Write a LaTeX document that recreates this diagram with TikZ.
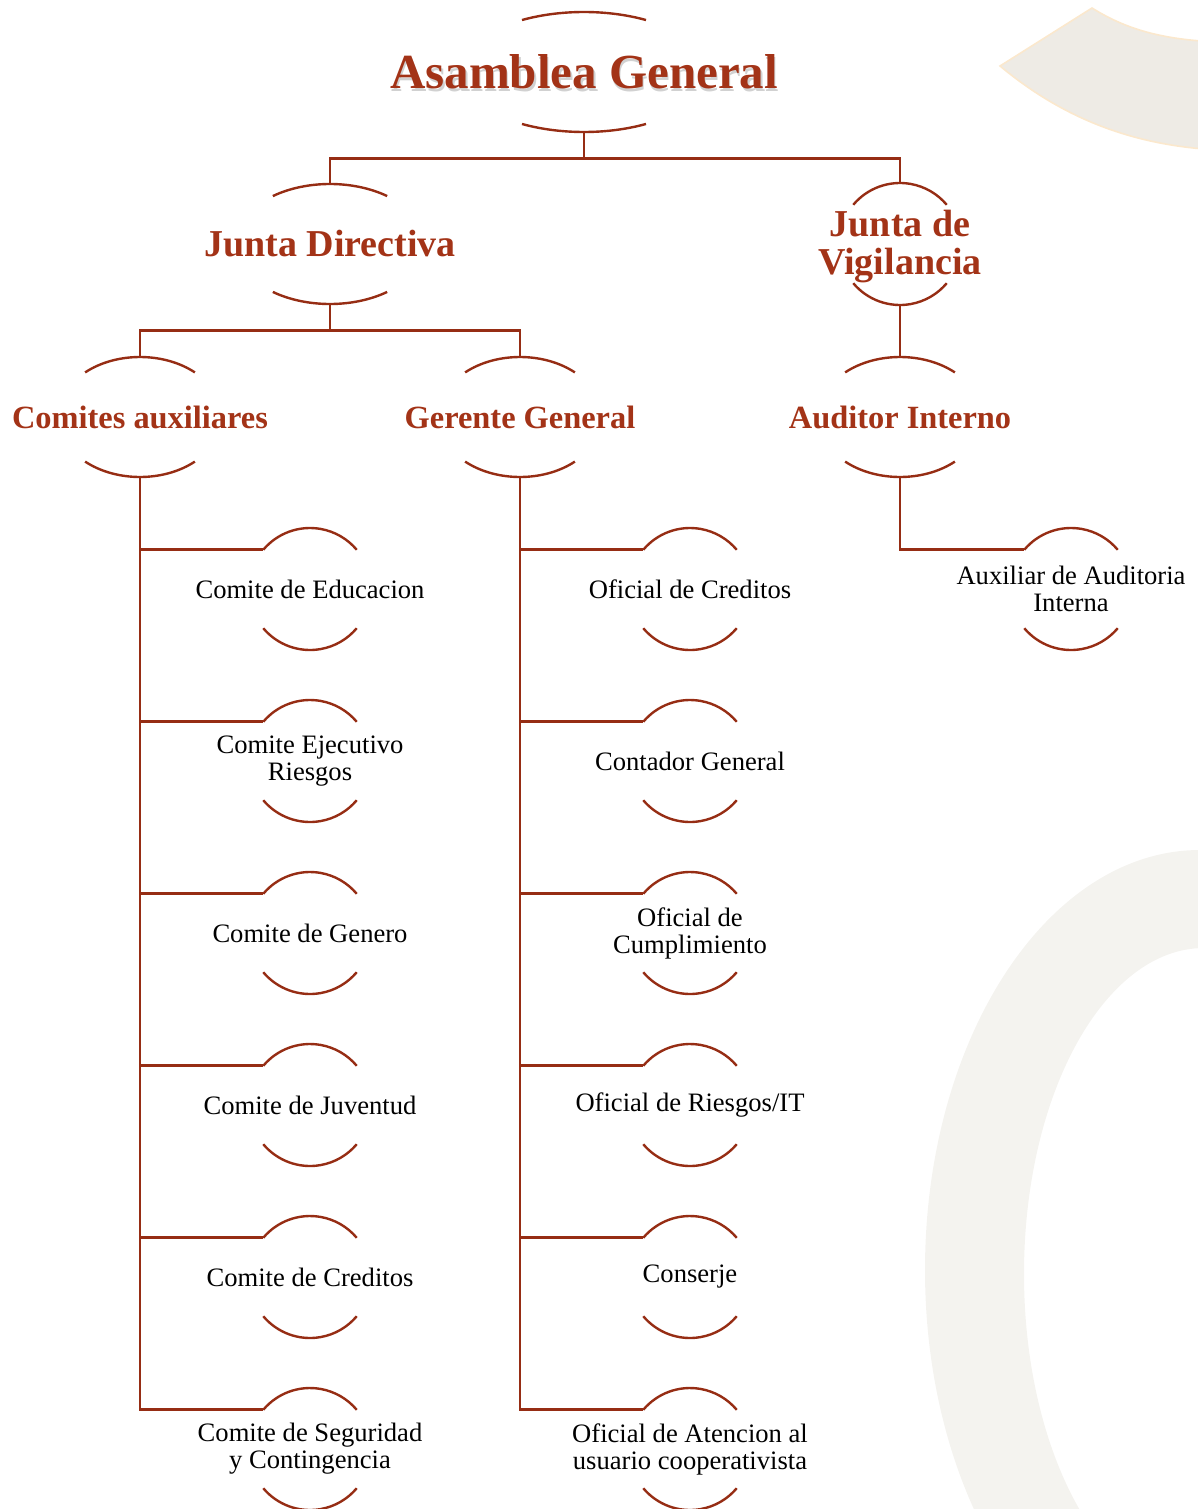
\documentclass[tikz,border=0pt]{standalone}
\usepackage{fontspec}
\setmainfont{Liberation Serif}
\usetikzlibrary{shapes.geometric}

\definecolor{linered}{RGB}{150,45,20}
\definecolor{headred}{RGB}{163,51,23}
\definecolor{ringgray}{RGB}{244,243,239}
\definecolor{bandgray}{RGB}{238,235,229}
\definecolor{bandedge}{RGB}{251,232,205}

\tikzset{
	orgline/.style={draw=linered, line width=1.2pt},
	topunit/.style={ellipse, inner sep=0pt, minimum width=124pt, minimum height=60pt},
	midunit/.style={ellipse, inner sep=0pt, minimum width=95pt, minimum height=60pt},
	lowunit/.style={ellipse, inner sep=0pt, minimum width=82pt, minimum height=60pt},
	subunit/.style={circle, inner sep=0pt, minimum size=61pt},
	titletext/.style={text=headred, font=\fontsize{24.5}{26}\selectfont\bfseries},
	titleshadow/.style={titletext, text=black!18, xshift=0.8pt, yshift=-1.3pt},
	headtext/.style={text=headred, align=center, font=\fontsize{19}{19}\selectfont\bfseries},
	depttext/.style={text=headred, font=\fontsize{16.2}{17}\selectfont\bfseries},
	subtext/.style={align=center, font=\fontsize{13.3}{13.5}\selectfont}
}

% two caps of an ellipse round a node: name, x radius, y radius, half opening
\newcommand{\caparcs}[4]{%
	\draw[orgline] ([shift={(180-#4:#2 and #3)}]#1.center) arc[start angle=180-#4, end angle=#4, x radius=#2, y radius=#3];
	\draw[orgline] ([shift={(180+#4:#2 and #3)}]#1.center) arc[start angle=180+#4, end angle=360-#4, x radius=#2, y radius=#3];}

\begin{document}
\begin{tikzpicture}[x=1pt, y=-1pt]
	\useasboundingbox (0,0) rectangle (599,754.5);

	% Background
	\begin{scope}
		\clip (0,0) rectangle (599,754.5);
		\fill[ringgray, even odd rule] (600,635) ellipse [x radius=137.5, y radius=210]
			(602,637) ellipse [x radius=90, y radius=163];
		\filldraw[fill=bandgray, draw=bandedge, line width=0.8pt] (500,33) -- (546,4)
			.. controls (562,14) and (580,20) .. (610,21) -- (610,75)
			.. controls (565,73) and (530,58) .. (500,33) -- cycle;
	\end{scope}

	% Asamblea General
	\node[topunit, label={[titleshadow]center:Asamblea General}, label={[titletext]center:Asamblea General}] (ag) at (292,36) {};
	\caparcs{ag}{62}{30}{60}

	% Juntas
	\node[midunit, label={[headtext]center:Junta Directiva}] (jd) at (165,122) {};
	\caparcs{jd}{47.5}{30}{53}
	\node[subunit, label={[headtext, yshift=-1.5pt]center:Junta de\\Vigilancia}] (jv) at (450,122) {};
	\caparcs{jv}{30.5}{30.5}{40}

	% Third level
	\node[lowunit, label={[depttext]center:Comites auxiliares}] (ca) at (70,208.5) {};
	\caparcs{ca}{41}{30}{48}
	\node[lowunit, label={[depttext]center:Gerente General}] (gg) at (260,208.5) {};
	\caparcs{gg}{41}{30}{48}
	\node[lowunit, label={[depttext]center:Auditor Interno}] (ai) at (450,208.5) {};
	\caparcs{ai}{41}{30}{48}

	% Comites
	\node[subunit, label={[subtext]center:Comite de Educacion}] (ce) at (155,294.5) {};
	\caparcs{ce}{30.5}{30.5}{40}
	\node[subunit, label={[subtext]center:Comite Ejecutivo\\Riesgos}] (cr) at (155,380.5) {};
	\caparcs{cr}{30.5}{30.5}{40}
	\node[subunit, label={[subtext]center:Comite de Genero}] (cg) at (155,466.5) {};
	\caparcs{cg}{30.5}{30.5}{40}
	\node[subunit, label={[subtext]center:Comite de Juventud}] (cj) at (155,552.5) {};
	\caparcs{cj}{30.5}{30.5}{40}
	\node[subunit, label={[subtext]center:Comite de Creditos}] (cc) at (155,638.5) {};
	\caparcs{cc}{30.5}{30.5}{40}
	\node[subunit, label={[subtext]center:Comite de Seguridad\\y Contingencia}] (cs) at (155,724.5) {};
	\caparcs{cs}{30.5}{30.5}{40}

	% Gerencia
	\node[subunit, label={[subtext]center:Oficial de Creditos}] (oc) at (345,294.5) {};
	\caparcs{oc}{30.5}{30.5}{40}
	\node[subunit, label={[subtext]center:Contador General}] (cgl) at (345,380.5) {};
	\caparcs{cgl}{30.5}{30.5}{40}
	\node[subunit, label={[subtext]center:Oficial de\\Cumplimiento}] (ocu) at (345,466.5) {};
	\caparcs{ocu}{30.5}{30.5}{40}
	\node[subunit, label={[subtext]center:Oficial de Riesgos/IT}] (ori) at (345,552.5) {};
	\caparcs{ori}{30.5}{30.5}{40}
	\node[subunit, label={[subtext]center:Conserje}] (cnj) at (345,638.5) {};
	\caparcs{cnj}{30.5}{30.5}{40}
	\node[subunit, label={[subtext]center:Oficial de Atencion al\\usuario cooperativista}] (oa) at (345,724.5) {};
	\caparcs{oa}{30.5}{30.5}{40}

	% Auditoria
	\node[subunit, label={[subtext]center:Auxiliar de Auditoria\\Interna}] (aa) at (535.5,294.5) {};
	\caparcs{aa}{30.5}{30.5}{40}

	% Connections
	\draw[orgline] (ag.south) -- ++(0,13) coordinate (agbus) -| (jd.north);
	\draw[orgline] (agbus) -| (jv.north);
	\draw[orgline] (jd.south) -- ++(0,13) coordinate (jdbus) -| (ca.north);
	\draw[orgline] (jdbus) -| (gg.north);
	\draw[orgline] (jv.south) -- (ai.north);
	\draw[orgline] (ai.south) |- (aa.140);
	\draw[orgline] (ca.south) |- (ce.140);
	\draw[orgline] (ca.south) |- (cr.140);
	\draw[orgline] (ca.south) |- (cg.140);
	\draw[orgline] (ca.south) |- (cj.140);
	\draw[orgline] (ca.south) |- (cc.140);
	\draw[orgline] (ca.south) |- (cs.140);
	\draw[orgline] (gg.south) |- (oc.140);
	\draw[orgline] (gg.south) |- (cgl.140);
	\draw[orgline] (gg.south) |- (ocu.140);
	\draw[orgline] (gg.south) |- (ori.140);
	\draw[orgline] (gg.south) |- (cnj.140);
	\draw[orgline] (gg.south) |- (oa.140);
\end{tikzpicture}
\end{document}
